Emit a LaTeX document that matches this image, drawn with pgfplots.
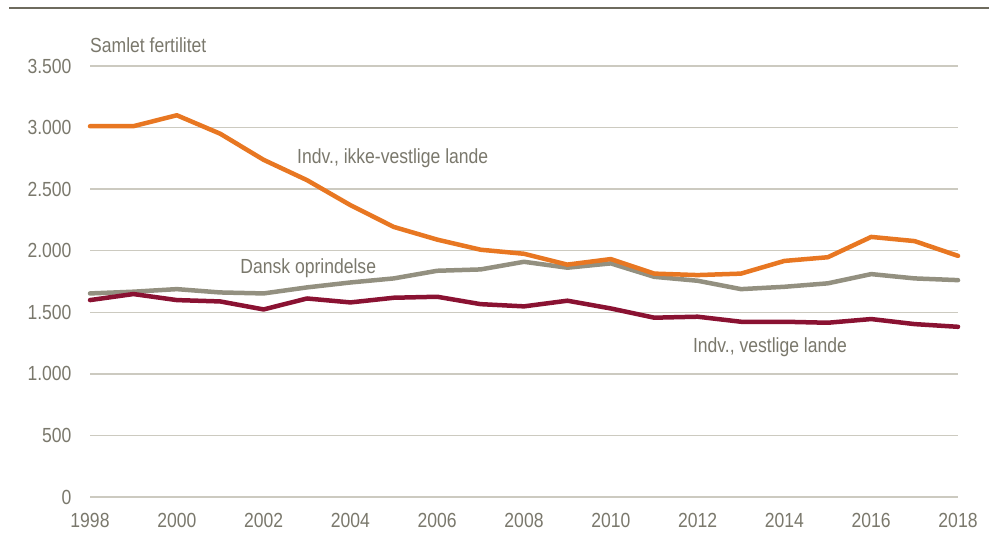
\documentclass[border=0pt]{standalone}
\usepackage{fontspec}
\setmainfont[FakeStretch=0.86]{Liberation Sans}
\usepackage{pgfplots}
\pgfplotsset{compat=1.18}
\definecolor{cOrange}{HTML}{E87722}
\definecolor{cGray}{HTML}{939080}
\definecolor{cRed}{HTML}{8A1232}
\definecolor{cText}{HTML}{7A786C}
\definecolor{cGrid}{HTML}{CCCAC0}
\definecolor{cRule}{HTML}{6E6B5E}
\begin{document}
\begin{tikzpicture}[x=1bp,y=1bp]
\useasboundingbox (0,0) rectangle (989,539);
\draw[cRule, line width=2bp] (9,530.5) -- (989,530.5);
\begin{axis}[
  at={(90bp,42bp)}, anchor=origin,
  scale only axis, width=868bp, height=431bp,
  xmin=1998, xmax=2018, ymin=0, ymax=3500,
  axis line style={draw=none},
  xtick={1998,2000,...,2018},
  ytick={0,500,...,3500},
  tick style={draw=none},
  ymajorgrids, grid style={cGrid, line width=1.3bp},
  /pgf/number format/assume math mode=true,
  ticklabel style={font=\fontsize{20.5}{24}\selectfont, text=cText},
  xticklabel style={/pgf/number format/1000 sep={}, yshift=-13bp},
  yticklabel style={/pgf/number format/1000 sep={.}, xshift=-15bp},
  clip=false,
  every axis plot/.append style={line width=4.5bp, line join=round, line cap=round},
]
\addplot[cGray] coordinates {
(1998,1653)(1999,1667)(2000,1688)(2001,1661)(2002,1653)(2003,1702)(2004,1742)
(2005,1775)(2006,1837)(2007,1848)(2008,1910)(2009,1862)(2010,1897)(2011,1788)
(2012,1756)(2013,1688)(2014,1707)(2015,1735)(2016,1810)(2017,1775)(2018,1761)};
\addplot[cRed] coordinates {
(1998,1599)(1999,1648)(2000,1599)(2001,1588)(2002,1523)(2003,1612)(2004,1580)
(2005,1618)(2006,1626)(2007,1566)(2008,1548)(2009,1594)(2010,1531)(2011,1456)
(2012,1464)(2013,1423)(2014,1423)(2015,1415)(2016,1445)(2017,1404)(2018,1382)};
\addplot[cOrange] coordinates {
(1998,3011)(1999,3011)(2000,3100)(2001,2950)(2002,2738)(2003,2573)(2004,2370)
(2005,2193)(2006,2090)(2007,2008)(2008,1975)(2009,1887)(2010,1932)(2011,1814)
(2012,1802)(2013,1814)(2014,1917)(2015,1947)(2016,2112)(2017,2078)(2018,1958)};
\node[anchor=west, inner sep=0, text=cText, font=\fontsize{20.5}{24}\selectfont] at (axis cs:1998,3669) {Samlet fertilitet};
\node[anchor=west, inner sep=0, text=cText, font=\fontsize{20.5}{24}\selectfont] at (axis cs:2002.77,2752) {Indv., ikke-vestlige lande};
\node[anchor=west, inner sep=0, text=cText, font=\fontsize{20.5}{24}\selectfont] at (axis cs:2001.46,1859) {Dansk oprindelse};
\node[anchor=west, inner sep=0, text=cText, font=\fontsize{20.5}{24}\selectfont] at (axis cs:2011.89,1218) {Indv., vestlige lande};
\end{axis}
\end{tikzpicture}
\end{document}
